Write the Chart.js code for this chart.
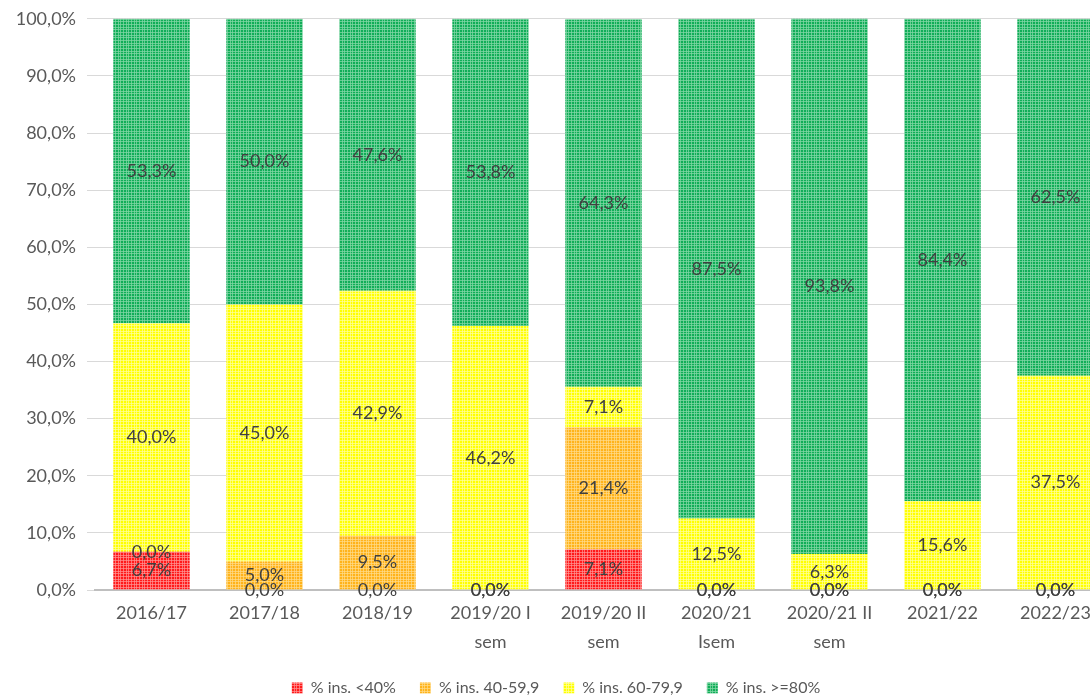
<!DOCTYPE html>
<html>
<head>
<meta charset="utf-8">
<script src="https://cdn.jsdelivr.net/npm/chart.js@4/dist/chart.umd.min.js"></script>
<style>
  html, body { margin: 0; padding: 0; background: #fff; overflow: hidden; }
  #wrap { width: 1090px; height: 698px; overflow: hidden; position: relative; }
  #box { width: 1112px; height: 701px; position: absolute; left: 0; top: -3px; }
</style>
</head>
<body>
<div id="wrap"><div id="box"><canvas id="chart"></canvas></div></div>
<script>
const categories = [
  ['2016/17'], ['2017/18'], ['2018/19'], ['2019/20 I', 'sem'], ['2019/20 II', 'sem'],
  ['2020/21', 'Isem'], ['2020/21 II', 'sem'], ['2021/22'], ['2022/23']
];
const below40 = [6.7, 0.0, 0.0, 0.0, 7.1, 0.0, 0.0, 0.0, 0.0];
const from40to60 = [0.0, 5.0, 9.5, 0.0, 21.4, 0.0, 0.0, 0.0, 0.0];
const from60to80 = [40.0, 45.0, 42.9, 46.2, 7.1, 12.5, 6.3, 15.6, 37.5];
const above80 = [53.3, 50.0, 47.6, 53.8, 64.3, 87.5, 93.8, 84.4, 62.5];
const seriesNames = ['% ins. <40%', '% ins. 40-59,9', '% ins. 60-79,9', '% ins. >=80%'];

const FONT = 'Lato, "Liberation Sans", sans-serif';
const fmt = (v) => v.toFixed(1).replace('.', ',') + '%';

// Excel-like textured fill
function texture(base, light) {
  const c = document.createElement('canvas');
  c.width = 8; c.height = 8;
  const g = c.getContext('2d');
  g.fillStyle = base;
  g.fillRect(0, 0, 8, 8);
  g.fillStyle = light;
  for (let i = 0; i < 8; i += 3) {
    g.fillRect(0, i, 8, 1);
    g.fillRect(i, 0, 1, 8);
  }
  return g.createPattern(c, 'repeat');
}

const fills = [
  texture('#ff1a1a', 'rgba(255,150,150,0.7)'),
  texture('#ffb31a', 'rgba(255,220,140,0.7)'),
  texture('#ffff00', 'rgba(255,255,160,0.7)'),
  texture('#10ad58', 'rgba(130,215,165,0.75)')
];

// draw value labels at the middle of each segment
const segmentLabels = {
  id: 'segmentLabels',
  afterDatasetsDraw(chart) {
    const ctx = chart.ctx;
    ctx.save();
    ctx.font = '18px ' + FONT;
    ctx.fillStyle = '#404040';
    ctx.textAlign = 'center';
    ctx.textBaseline = 'middle';
    chart.data.datasets.forEach((ds, i) => {
      const meta = chart.getDatasetMeta(i);
      meta.data.forEach((bar, j) => {
        const y = (bar.y + bar.base) / 2;
        ctx.fillText(fmt(ds.data[j]), bar.x, y);
      });
    });
    ctx.restore();
  }
};

new Chart(document.getElementById('chart'), {
  type: 'bar',
  data: {
    labels: categories,
    datasets: [below40, from40to60, from60to80, above80].map((d, i) => ({
      label: seriesNames[i],
      data: d,
      backgroundColor: fills[i],
      borderWidth: 0,
      categoryPercentage: 1,
      barPercentage: 0.676
    }))
  },
  options: {
    responsive: true,
    maintainAspectRatio: false,
    animation: false,
    layout: { padding: { top: 0, left: 0, right: 0, bottom: -8 } },
    plugins: {
      legend: {
        position: 'bottom',
        labels: {
          font: { family: FONT, size: 16 },
          color: '#595959',
          boxWidth: 11,
          boxHeight: 11,
          padding: 24
        }
      },
      tooltip: { enabled: false }
    },
    scales: {
      x: {
        stacked: true,
        afterFit(scale) { scale.height = 66; },
        grid: { display: false },
        border: { color: '#bfbfbf', width: 2 },
        ticks: {
          font: { family: FONT, size: 18, lineHeight: 1.65 },
          color: '#595959',
          maxRotation: 0,
          autoSkip: false,
          padding: 0
        }
      },
      y: {
        stacked: true,
        min: 0,
        max: 100,
        afterFit(scale) { scale.width = 95; },
        grid: { color: '#d9d9d9' },
        border: { display: false },
        ticks: {
          stepSize: 10,
          font: { family: FONT, size: 18 },
          color: '#595959',
          padding: 11,
          callback: (v) => fmt(v)
        }
      }
    }
  },
  plugins: [segmentLabels]
});
</script>
</body>
</html>
